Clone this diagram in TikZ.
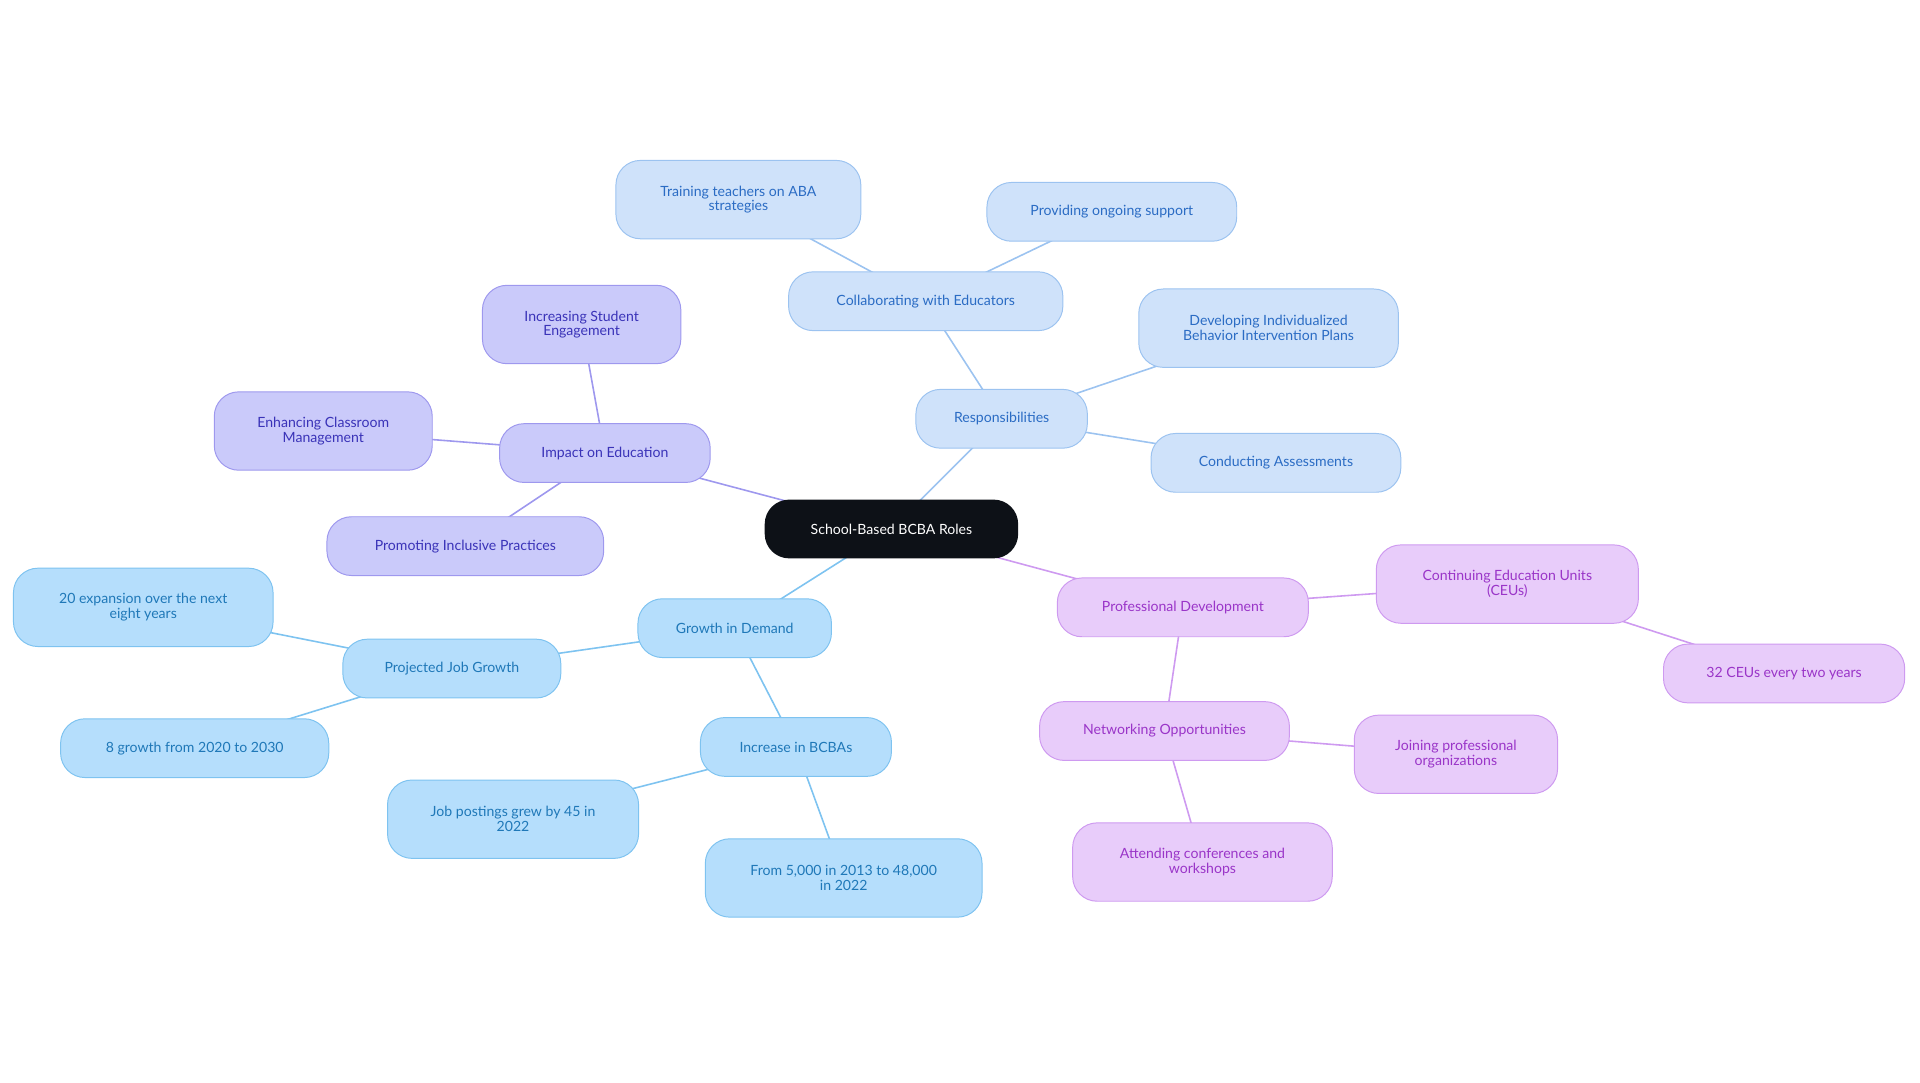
\documentclass[tikz,border=0pt]{standalone}
\usepackage{fontspec}
\setmainfont{Lato}
\usetikzlibrary{backgrounds}
\definecolor{rF}{HTML}{CFE2FA}\definecolor{rD}{HTML}{9CC3F0}\definecolor{rT}{HTML}{2B6CC4}
\definecolor{iF}{HTML}{CACAFA}\definecolor{iD}{HTML}{9E98EE}\definecolor{iT}{HTML}{3A33B8}
\definecolor{gF}{HTML}{B5DEFC}\definecolor{gD}{HTML}{7EC3F0}\definecolor{gT}{HTML}{1F78B8}
\definecolor{pF}{HTML}{E8CCFA}\definecolor{pD}{HTML}{CE9AF0}\definecolor{pT}{HTML}{9A35C8}
\definecolor{cF}{HTML}{0D1117}
\tikzset{
 bx/.style={rounded corners=20pt, inner sep=0pt, align=center, font=\fontsize{11.5}{12}\selectfont, line width=0.8pt},
 rs/.style={bx, fill=rF, draw=rD, text=rT},
 is/.style={bx, fill=iF, draw=iD, text=iT},
 gs/.style={bx, fill=gF, draw=gD, text=gT},
 ps/.style={bx, fill=pF, draw=pD, text=pT},
 re/.style={draw=rD, line width=1.3pt},
 ie/.style={draw=iD, line width=1.3pt},
 ge/.style={draw=gD, line width=1.3pt},
 pe/.style={draw=pD, line width=1.3pt},
}
\newcommand{\nd}[6]{\node[#1, minimum width=#4pt, minimum height=#5pt] (#2) at (#3) {#6};}
\begin{document}
\begin{tikzpicture}[x=1pt,y=-1pt]
\useasboundingbox (0,0) rectangle (1568,884);
\nd{bx,fill=cF,text=white}{c}{728,432}{207}{48}{School-Based BCBA Roles}
\nd{rs}{r}{818,342}{140}{48}{Responsibilities}
\nd{rs}{r1}{756,246}{224}{48}{Collaborating with Educators}
\nd{rs}{r11}{603,163}{200}{64}{Training teachers on ABA\\strategies}
\nd{rs}{r12}{908,173}{204}{48}{Providing ongoing support}
\nd{rs}{r2}{1036,268}{212}{64}{Developing Individualized\\Behavior Intervention Plans}
\nd{rs}{r3}{1042,378}{204}{48}{Conducting Assessments}
\nd{is}{i}{494,370}{172}{48}{Impact on Education}
\nd{is}{i1}{475,265}{162}{64}{Increasing Student\\Engagement}
\nd{is}{i2}{264,352}{178}{64}{Enhancing Classroom\\Management}
\nd{is}{i3}{380,446}{226}{48}{Promoting Inclusive Practices}
\nd{gs}{g}{600,513}{158}{48}{Growth in Demand}
\nd{gs}{g1}{369,546}{178}{48}{Projected Job Growth}
\nd{gs}{g11}{117,496}{212}{64}{20 expansion over the next\\eight years}
\nd{gs}{g12}{159,611}{219}{48}{8 growth from 2020 to 2030}
\nd{gs}{g2}{650,610}{156}{48}{Increase in BCBAs}
\nd{gs}{g21}{419,669}{205}{64}{Job postings grew by 45 in\\2022}
\nd{gs}{g22}{689,717}{226}{64}{From 5,000 in 2013 to 48,000\\in 2022}
\nd{ps}{p}{966,496}{205}{48}{Professional Development}
\nd{ps}{p1}{1231,477}{214}{64}{Continuing Education Units\\(CEUs)}
\nd{ps}{p11}{1457,550}{197}{48}{32 CEUs every two years}
\nd{ps}{p2}{951,597}{204}{48}{Networking Opportunities}
\nd{ps}{p21}{1189,616}{166}{64}{Joining professional\\organizations}
\nd{ps}{p22}{982,704}{212}{64}{Attending conferences and\\workshops}
\begin{scope}[on background layer]
\draw[re] (c.center)--(r.center) (r.center)--(r1.center) (r1.center)--(r11.center) (r1.center)--(r12.center) (r.center)--(r2.center) (r.center)--(r3.center);
\draw[ie] (c.center)--(i.center) (i.center)--(i1.center) (i.center)--(i2.center) (i.center)--(i3.center);
\draw[ge] (c.center)--(g.center) (g.center)--(g1.center) (g1.center)--(g11.center) (g1.center)--(g12.center) (g.center)--(g2.center) (g2.center)--(g21.center) (g2.center)--(g22.center);
\draw[pe] (c.center)--(p.center) (p.center)--(p1.center) (p1.center)--(p11.center) (p.center)--(p2.center) (p2.center)--(p21.center) (p2.center)--(p22.center);
\end{scope}
\end{tikzpicture}
\end{document}
